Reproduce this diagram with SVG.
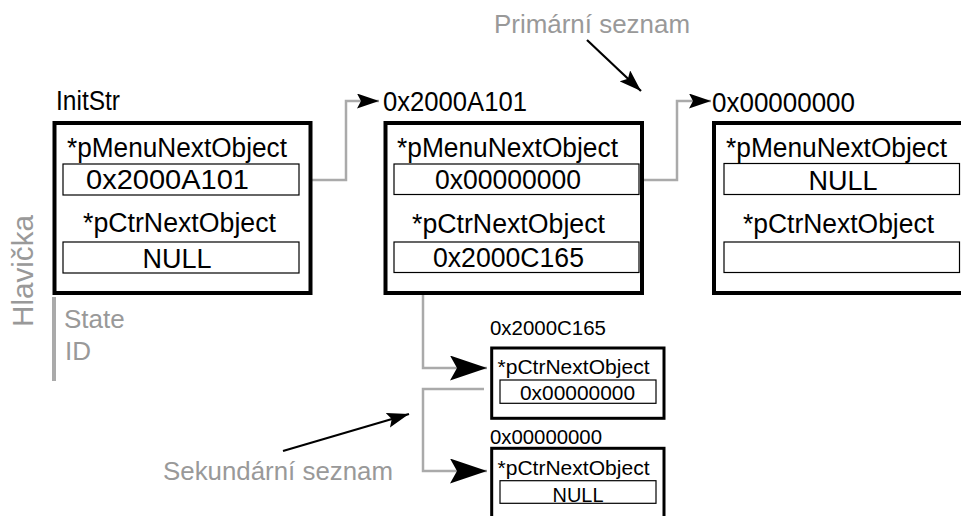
<svg xmlns="http://www.w3.org/2000/svg" width="961" height="516" viewBox="0 0 961 516">
  <style>
    .obj { fill: #ffffff; stroke: #000000; stroke-width: 4; }
    .objs { fill: #ffffff; stroke: #000000; stroke-width: 3; }
    .field { fill: #ffffff; stroke: #000000; stroke-width: 1.2; }
    .t { font-family: "Liberation Sans", Arial, sans-serif; fill: #000000; }
    .big { font-size: 27px; }
    .small { font-size: 20px; }
    .note { font-family: "Liberation Sans", Arial, sans-serif; fill: #999999; font-size: 26px; }
    .link { fill: none; stroke: #aaaaaa; stroke-width: 2.5; }
    .pointer { fill: none; stroke: #000000; stroke-width: 2.2; }
  </style>
  <defs>
    <marker id="arrowS" markerUnits="userSpaceOnUse" markerWidth="23" markerHeight="16" refX="22" refY="7.5" orient="auto">
      <path d="M0,0 L22,7.5 L0,15 L4,7.5 Z" fill="#000000"/>
    </marker>
    <marker id="arrowL" markerUnits="userSpaceOnUse" markerWidth="38" markerHeight="26" refX="37" refY="12.5" orient="auto">
      <path d="M0,0 L37,12.5 L0,25 L7,12.5 Z" fill="#000000"/>
    </marker>
  </defs>

  <!-- header annotation -->
  <g id="header">
    <text class="note" transform="translate(33,327) rotate(-90)" textLength="112" lengthAdjust="spacingAndGlyphs" style="font-size:30px">Hlavička</text>
    <line x1="54" y1="297" x2="54" y2="381" stroke="#aaaaaa" stroke-width="4"/>
    <text class="note" x="64" y="328">State</text>
    <text class="note" x="65" y="360">ID</text>
  </g>

  <!-- connectors -->
  <g id="connectors">
    <polyline class="link" points="312,180 346,180 346,101 379,101" marker-end="url(#arrowS)"/>
    <polyline class="link" points="643,180 677,180 677,101 711,101" marker-end="url(#arrowS)"/>
    <polyline class="link" points="423,295 423,368 487,368" marker-end="url(#arrowL)"/>
    <polyline class="link" points="484,389 423,389 423,471 487,471" marker-end="url(#arrowL)"/>
    <line class="pointer" x1="587" y1="40" x2="641" y2="91" marker-end="url(#arrowS)"/>
    <line class="pointer" x1="283" y1="451" x2="409" y2="414" marker-end="url(#arrowS)"/>
  </g>

  <!-- list labels -->
  <g id="label-primary">
    <text class="note" x="494" y="33" textLength="196" lengthAdjust="spacingAndGlyphs">Primární seznam</text>
  </g>
  <g id="label-secondary">
    <text class="note" x="163" y="480" textLength="230" lengthAdjust="spacingAndGlyphs">Sekundární seznam</text>
  </g>

  <!-- InitStr -->
  <g id="node-initstr">
    <text class="t big" x="56" y="110" textLength="64" lengthAdjust="spacingAndGlyphs">InitStr</text>
    <rect class="obj" x="54.5" y="123" width="256" height="170"/>
    <text class="t big" x="67" y="157" textLength="220" lengthAdjust="spacingAndGlyphs">*pMenuNextObject</text>
    <rect class="field" x="63" y="164" width="236" height="31"/>
    <text class="t big" x="86" y="189" textLength="163" lengthAdjust="spacingAndGlyphs" style="font-size:28px">0x2000A101</text>
    <text class="t big" x="83" y="232" textLength="193" lengthAdjust="spacingAndGlyphs">*pCtrNextObject</text>
    <rect class="field" x="63" y="242" width="236" height="31"/>
    <text class="t big" x="177" y="268" text-anchor="middle">NULL</text>
  </g>

  <!-- object 0x2000A101 -->
  <g id="node-2000A101">
    <text class="t big" x="383" y="111" textLength="144" lengthAdjust="spacingAndGlyphs">0x2000A101</text>
    <rect class="obj" x="385.5" y="123" width="256.5" height="170"/>
    <text class="t big" x="397" y="157" textLength="221" lengthAdjust="spacingAndGlyphs">*pMenuNextObject</text>
    <rect class="field" x="394" y="164" width="245" height="30.5"/>
    <text class="t big" x="435" y="188.5" textLength="146" lengthAdjust="spacingAndGlyphs">0x00000000</text>
    <text class="t big" x="412" y="233" textLength="193" lengthAdjust="spacingAndGlyphs">*pCtrNextObject</text>
    <rect class="field" x="394" y="242" width="245" height="30.5"/>
    <text class="t big" x="433" y="266.5" textLength="151" lengthAdjust="spacingAndGlyphs">0x2000C165</text>
  </g>

  <!-- object 0x00000000 (primary) -->
  <g id="node-00000000-primary">
    <text class="t big" x="712" y="111.5" textLength="143" lengthAdjust="spacingAndGlyphs">0x00000000</text>
    <rect class="obj" x="714" y="123" width="260" height="170"/>
    <text class="t big" x="726" y="157" textLength="221" lengthAdjust="spacingAndGlyphs">*pMenuNextObject</text>
    <rect class="field" x="724" y="163.5" width="235.5" height="31"/>
    <text class="t big" x="843" y="189.5" text-anchor="middle">NULL</text>
    <text class="t big" x="743" y="233" textLength="191" lengthAdjust="spacingAndGlyphs">*pCtrNextObject</text>
    <rect class="field" x="724" y="242" width="235.5" height="30.5"/>
  </g>

  <!-- object 0x2000C165 -->
  <g id="node-2000C165">
    <text class="t small" x="490" y="335" textLength="116" lengthAdjust="spacingAndGlyphs">0x2000C165</text>
    <rect class="objs" x="491.7" y="348" width="172.3" height="70.3"/>
    <text class="t small" x="497.5" y="374.3" textLength="152" lengthAdjust="spacingAndGlyphs">*pCtrNextObject</text>
    <rect class="field" x="500" y="380" width="156" height="23.3"/>
    <text class="t small" x="520" y="400" textLength="115" lengthAdjust="spacingAndGlyphs">0x00000000</text>
  </g>

  <!-- object 0x00000000 (secondary) -->
  <g id="node-00000000-secondary">
    <text class="t small" x="490" y="444" textLength="112" lengthAdjust="spacingAndGlyphs">0x00000000</text>
    <rect class="objs" x="491.7" y="448.3" width="172.3" height="80"/>
    <text class="t small" x="497.5" y="475" textLength="152" lengthAdjust="spacingAndGlyphs">*pCtrNextObject</text>
    <rect class="field" x="500" y="480.7" width="156" height="22.6"/>
    <text class="t small" x="578" y="501.5" text-anchor="middle" textLength="51" lengthAdjust="spacingAndGlyphs">NULL</text>
  </g>
</svg>
